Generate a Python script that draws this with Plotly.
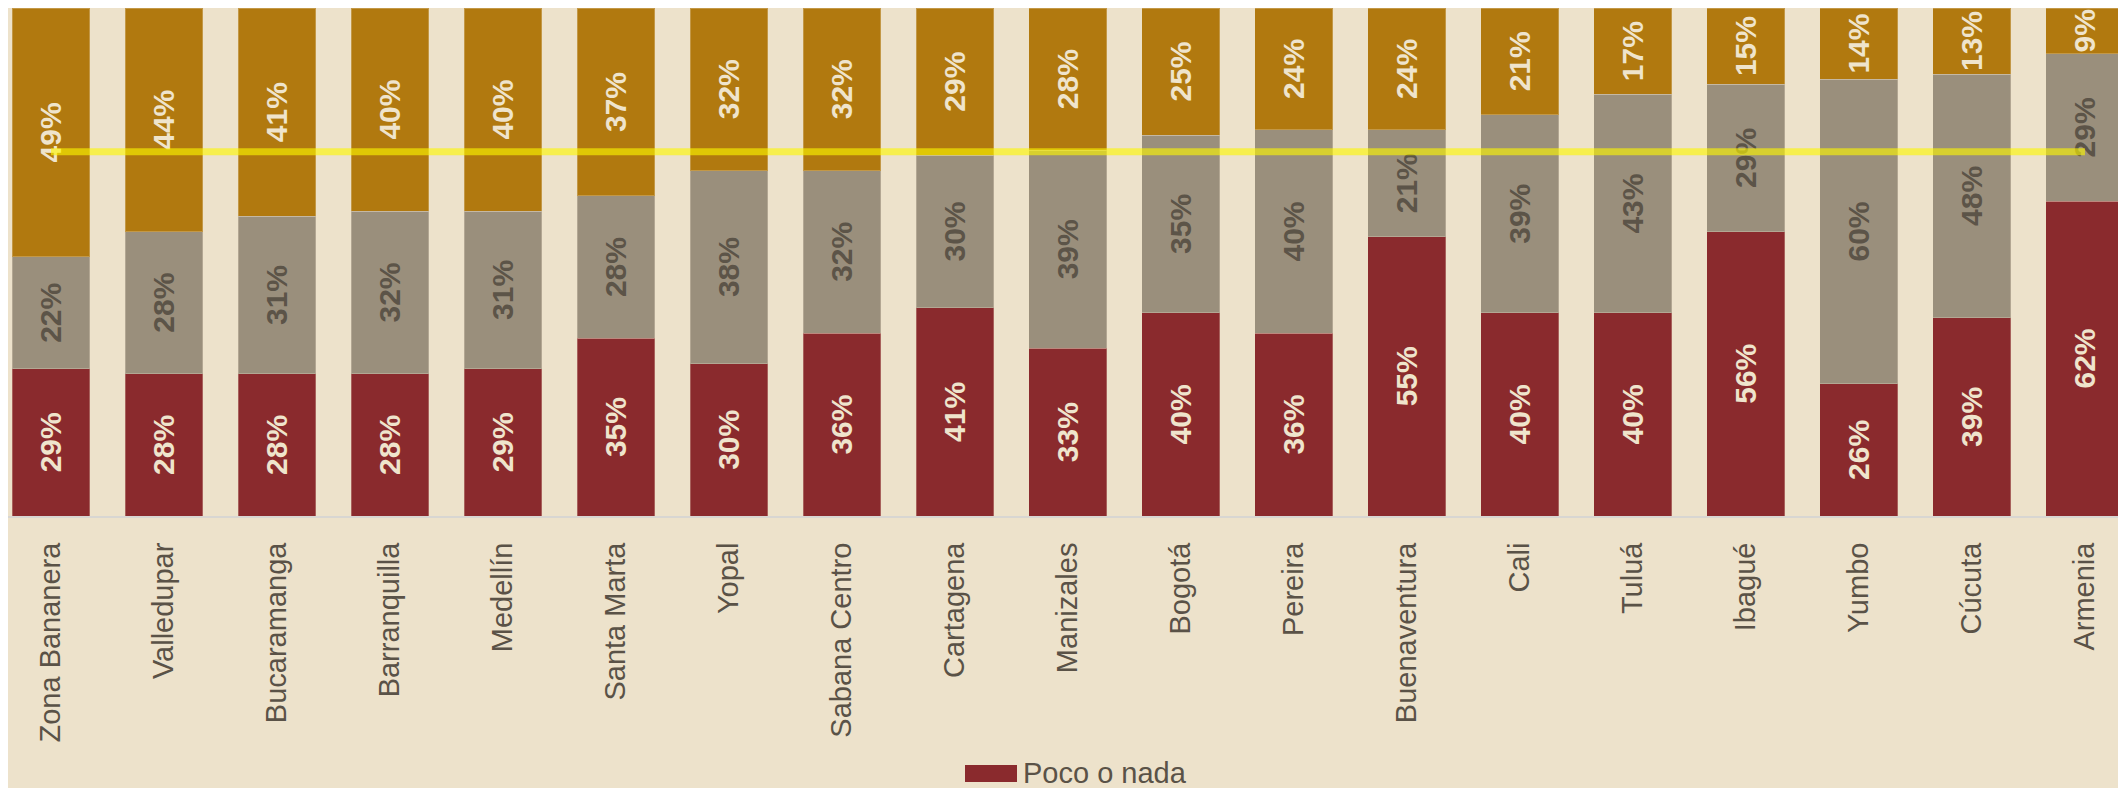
import plotly.graph_objects as go

cities = ["Zona Bananera", "Valledupar", "Bucaramanga", "Barranquilla", "Medellín",
          "Santa Marta", "Yopal", "Sabana Centro", "Cartagena", "Manizales", "Bogotá",
          "Pereira", "Buenaventura", "Cali", "Tuluá", "Ibagué", "Yumbo", "Cúcuta", "Armenia"]
poco_o_nada = [29, 28, 28, 28, 29, 35, 30, 36, 41, 33, 40, 36, 55, 40, 40, 56, 26, 39, 62]
algo = [22, 28, 31, 32, 31, 28, 38, 32, 30, 39, 35, 40, 21, 39, 43, 29, 60, 48, 29]
mucho = [49, 44, 41, 40, 40, 37, 32, 32, 29, 28, 25, 24, 24, 21, 17, 15, 14, 13, 9]
reference_line = 71.7
legend_label = "Poco o nada"

BG = "#ede2cb"
RED = "#8a2a2d"
GREY = "#9a8f7c"
GOLD = "#b1790f"
LIGHT_TXT = "#efe4cc"
DARK_TXT = "#5c5448"
FONT = "Liberation Sans"

fig = go.Figure()

series = [
    (legend_label, poco_o_nada, RED, LIGHT_TXT),
    ("Algo", algo, GREY, DARK_TXT),
    ("Mucho", mucho, GOLD, LIGHT_TXT),
]
for name, vals, col, tcol in series:
    fig.add_trace(go.Bar(
        x=cities, y=vals, name=name,
        marker=dict(color=col, line=dict(color="rgba(237,226,203,0.3)", width=1)),
        text=[f"{v}%" for v in vals],
        textposition="inside", insidetextanchor="middle", textangle=-90,
        constraintext="none",
        textfont=dict(family=FONT, size=30, color=tcol, weight="bold"),
        showlegend=False, hoverinfo="skip",
    ))

fig.add_trace(go.Scatter(
    x=[cities[0], cities[-1]], y=[reference_line, reference_line],
    mode="lines", line=dict(color="rgba(253,247,0,0.62)", width=7),
    showlegend=False, hoverinfo="skip",
))

# custom legend entry (wide swatch + label)
PLOT_H = 508
def py(fy):
    return (PLOT_H - fy) / PLOT_H

fig.add_shape(type="rect", xref="paper", yref="paper",
              x0=957 / 2126, x1=1009 / 2126, y0=py(774), y1=py(757),
              fillcolor=RED, line=dict(width=0))
fig.add_annotation(xref="paper", yref="paper", x=1013 / 2126, y=py(765),
                   xanchor="left", yanchor="middle", showarrow=False,
                   text=legend_label,
                   font=dict(family=FONT, size=29, color="#5a5247"))

fig.update_layout(
    width=2126, height=788,
    barmode="stack", bargap=0.31,
    paper_bgcolor=BG, plot_bgcolor=BG,
    margin=dict(l=0, r=0, t=0, b=788 - PLOT_H),
    font=dict(family=FONT, color=DARK_TXT),
    showlegend=False,
    xaxis=dict(
        range=[-0.3805, 18.434], tickangle=-90,
        tickfont=dict(family=FONT, size=29, color="#5a5247"),
        showline=True, linecolor="#d8d6d2", linewidth=2,
        ticks="", ticklabelstandoff=13, showgrid=False,
    ),
    yaxis=dict(range=[0, 100], visible=False, showgrid=False),
)

fig.write_html("out.html")
